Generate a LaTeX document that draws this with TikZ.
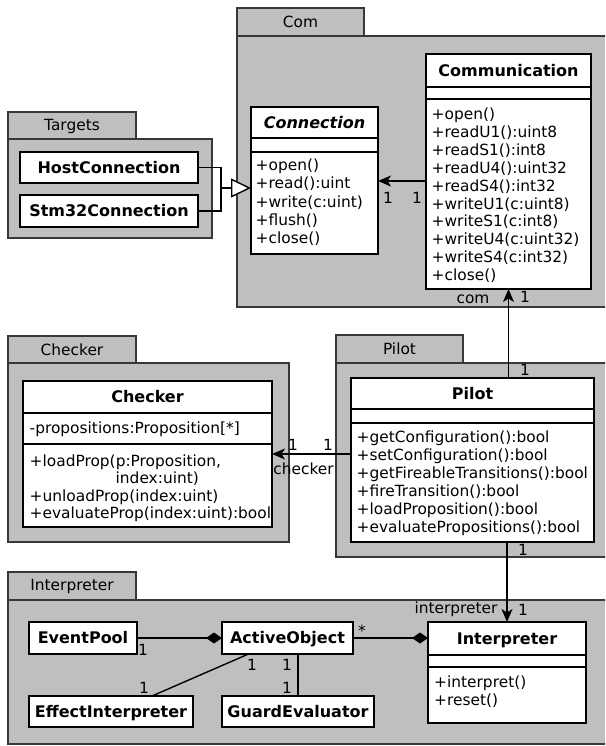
\documentclass[tikz,border=0pt]{standalone}
\usepackage{fontspec}
\setmainfont{DejaVu Sans}
\usetikzlibrary{arrows.meta}

\tikzset{
  x=1pt, y=-1pt,
  pkg/.style={draw=black!78, fill=black!25, line width=1.2pt, anchor=north west,
    inner sep=0pt, outer sep=0pt, font=\fontsize{15.4}{18}\selectfont},
  cls/.style={draw=black, fill=white, line width=1.2pt, anchor=north west,
    inner sep=0pt, outer sep=0pt},
  single/.style={cls, font=\bfseries\fontsize{16}{19}\selectfont,
    text height=11.7pt, text depth=0pt},
  ttl/.style={inner sep=0pt, font=\bfseries\fontsize{16}{19}\selectfont,
    text height=11.7pt, text depth=0pt},
  mem/.style={inner sep=0pt, anchor=base west, font=\fontsize{15.4}{18}\selectfont},
  lbl/.style={inner sep=0pt, font=\fontsize{15.4}{18}\selectfont,
    text height=11pt, text depth=0pt},
  sep/.style={line width=1.2pt},
  link/.style={line width=1.4pt},
  nav/.style={link, -{Stealth[length=13pt,width=11pt,inset=3.5pt]}},
  comp/.style={link, -{Diamond[length=16pt,width=11pt]}},
  gen/.style={link, -{Triangle[open,length=20pt,width=19pt,fill=white]}},
}

% member list: x, first baseline, line step, entries
\newcommand\umlmembers[4]{%
  \foreach \txt [count=\k from 0] in {#4}
    \node[mem] at (#1, #2+\k*#3) {\txt};}

\begin{document}
\begin{tikzpicture}
\useasboundingbox (0,0) rectangle (605,746);
\clip (0,0) rectangle (605,746);

% ---------- packages ----------
\node[pkg, minimum width=128pt, minimum height=28pt] (targetsTab) at (8,112) {Targets};
\node[pkg, minimum width=204pt, minimum height=99pt] (targetsBody) at (8,139) {};

\node[pkg, minimum width=127pt, minimum height=28pt] (comTab) at (237,8) {Com};
\node[pkg, minimum width=380pt, minimum height=271pt] (comBody) at (237,36) {};

\node[pkg, minimum width=128pt, minimum height=27pt] (checkerTab) at (8,336) {Checker};
\node[pkg, minimum width=281pt, minimum height=179pt] (checkerBody) at (8,363) {};

\node[pkg, minimum width=127pt, minimum height=28pt] (pilotTab) at (336,335) {Pilot};
\node[pkg, minimum width=280pt, minimum height=194pt] (pilotBody) at (336,363) {};

\node[pkg, minimum width=128pt, minimum height=28pt] (interpTab) at (8,572) {Interpreter};
\node[pkg, minimum width=610pt, minimum height=144pt] (interpBody) at (8,600) {};

% ---------- Targets ----------
\node[single, minimum width=178pt, minimum height=31pt] (host) at (20,152) {HostConnection};
\node[single, minimum width=178pt, minimum height=32pt] (stm) at (20,195) {Stm32Connection};

% ---------- Com ----------
\node[cls, minimum width=127pt, minimum height=147pt] (conn) at (251,107) {};
\draw[sep] (conn.west |- 0,138) -- (conn.east |- 0,138);
\draw[sep] (conn.west |- 0,152) -- (conn.east |- 0,152);
\node[ttl, font=\bfseries\itshape\fontsize{16}{19}\selectfont] at (314.5,122.5) {Connection};
\umlmembers{255.5}{171}{18}{+open(),+read():uint,+write(c:uint),+flush(),+close()}

\node[cls, minimum width=165pt, minimum height=235pt] (comm) at (426,54) {};
\draw[sep] (comm.west |- 0,87) -- (comm.east |- 0,87);
\draw[sep] (comm.west |- 0,99) -- (comm.east |- 0,99);
\node[ttl] at (508.5,70.5) {Communication};
\umlmembers{431.5}{119.5}{17.9}{+open(),+readU1():uint8,+readS1():int8,+readU4():uint32,
  +readS4():int32,+writeU1(c:uint8),+writeS1(c:int8),+writeU4(c:uint32),
  +writeS4(c:int32),+close()}

% ---------- Checker ----------
\node[cls, minimum width=249pt, minimum height=146pt] (checker) at (23,381) {};
\draw[sep] (checker.west |- 0,413) -- (checker.east |- 0,413);
\draw[sep] (checker.west |- 0,444) -- (checker.east |- 0,444);
\node[ttl] at (147.5,397) {Checker};
\node[mem] at (29.5,433.5) {-propositions:Proposition[*]};
\node[mem] at (29.5,466) {+loadProp(p:Proposition,};
\node[mem] at (115.5,483.5) {index:uint)};
\node[mem] at (29.5,501) {+unloadProp(index:uint)};
\node[mem] at (29.5,518.5) {+evaluateProp(index:uint):bool};

% ---------- Pilot ----------
\node[cls, minimum width=243pt, minimum height=164pt] (pilot) at (351,378) {};
\draw[sep] (pilot.west |- 0,409) -- (pilot.east |- 0,409);
\draw[sep] (pilot.west |- 0,423) -- (pilot.east |- 0,423);
\node[ttl] at (472.5,393.5) {Pilot};
\umlmembers{356.5}{442.5}{18}{+getConfiguration():bool,+setConfiguration():bool,
  +getFireableTransitions():bool,+fireTransition():bool,+loadProposition():bool,
  +evaluatePropositions():bool}

% ---------- Interpreter ----------
\node[single, minimum width=108pt, minimum height=32pt] (pool) at (29,622) {EventPool};
\node[single, minimum width=131pt, minimum height=32pt] (active) at (222,622) {ActiveObject};
\node[single, minimum width=164pt, minimum height=31pt] (effect) at (29,696) {EffectInterpreter};
\node[single, minimum width=152pt, minimum height=31pt] (guard) at (222,696) {GuardEvaluator};

\node[cls, minimum width=158pt, minimum height=101pt] (interp) at (428,622) {};
\draw[sep] (interp.west |- 0,655) -- (interp.east |- 0,655);
\draw[sep] (interp.west |- 0,667) -- (interp.east |- 0,667);
\node[ttl] at (507,638.5) {Interpreter};
\umlmembers{434}{687.5}{18}{+interpret(),+reset()}

% ---------- connectors ----------
\coordinate (targetsJoin) at (221,188);
\draw[link] (host.east) -| (targetsJoin) |- (stm.east);
\draw[gen] (targetsJoin) -- (targetsJoin -| conn.west);

\coordinate (commPort) at (426,181);
\draw[nav] (commPort) -- (commPort -| conn.east);
\node[lbl] at (388,198) {1};
\node[lbl] at (417,198) {1};

\draw[nav] (pilot.north -| comm.south) -- (comm.south);
\node[lbl] at (473,298) {com};
\node[lbl] at (525,297) {1};
\node[lbl] at (525,370) {1};

\draw[nav] (checker.east -| pilot.west) -- (checker.east);
\node[lbl] at (293,445) {1};
\node[lbl] at (328,445) {1};
\node[lbl] at (303.5,469) {checker};

\draw[nav] (pilot.south -| interp.north) -- (interp.north);
\node[lbl] at (523,550) {1};
\node[lbl] at (456,608) {interpreter};
\node[lbl] at (523,610) {1};

\draw[comp] (pool.east) -- (active.west);
\node[lbl] at (143,650) {1};

\draw[comp] (active.east) -- (active.east -| interp.west);
\node[lbl] at (362,631) {*};

\draw[link] ([xshift=-39pt]active.south) -- ([xshift=41pt]effect.north);
\node[lbl] at (252,665) {1};
\node[lbl] at (144,688) {1};

\draw[link] (guard.north) -- (guard.north |- active.south);
\node[lbl] at (287,665) {1};
\node[lbl] at (287,688) {1};
\end{tikzpicture}
\end{document}
